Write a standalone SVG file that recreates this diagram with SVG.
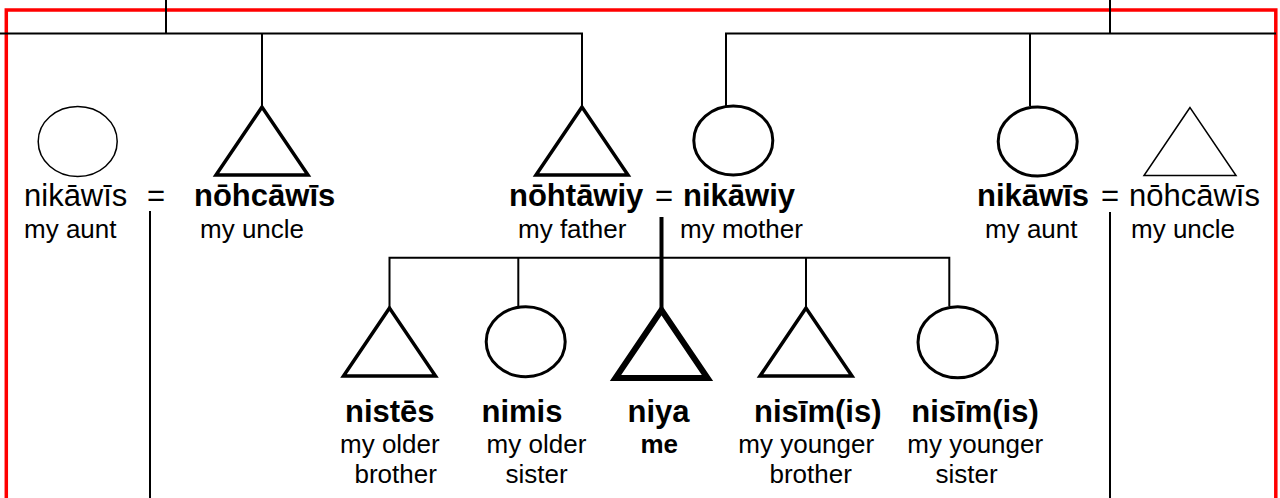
<svg xmlns="http://www.w3.org/2000/svg" width="1280" height="498" viewBox="0 0 1280 498">
<style>
text{font-family:"Liberation Sans",Arial,sans-serif;fill:#000}
.nm{font-size:31px}
.b{font-weight:bold}
.sub{font-size:26px}
.thin{fill:none;stroke:#000;stroke-width:1.5}
.thick{fill:none;stroke:#000;stroke-width:3.5}
.me{fill:none;stroke:#000;stroke-width:6}
.ln{fill:none;stroke:#000;stroke-width:2}
.frame{fill:none;stroke:#ff0000;stroke-width:3.5}
</style>
<defs>
<path id="tri" d="M0,0 L-46,68 L46,68 Z"/>
</defs>
<rect width="1280" height="498" fill="#fff"/>
<rect class="frame" x="6.3" y="10" width="1269.5" height="560"/>

<g id="connectors">
<path class="ln" d="M0,33.5 H582 V107"/>
<path class="ln" d="M166,0 V33.5"/>
<path class="ln" d="M262,33.5 V107"/>
<path class="ln" d="M726,106 V33.5 H1276"/>
<path class="ln" d="M1110,0 V33.5"/>
<path class="ln" d="M1030,33.5 V106"/>
<path class="ln" d="M150,211 V498"/>
<path class="ln" d="M1110,212 V498"/>
<path class="ln" style="stroke-width:4" d="M661.5,217 V309"/>
<path class="ln" d="M389.5,308 V257.7 H949.3 V306"/>
<path class="ln" d="M518.3,257.7 V306"/>
<path class="ln" d="M806,257.7 V308"/>
</g>

<g id="aunt-left">
<ellipse class="thin" cx="77.7" cy="141.5" rx="39.5" ry="35"/>
<text class="nm" x="24" y="206">nikāwīs</text>
<text class="sub" x="24" y="238">my aunt</text>
</g>
<g id="eq-left"><text class="nm" x="147" y="206">=</text></g>
<g id="uncle-left">
<use href="#tri" class="thick" x="262" y="107"/>
<text class="nm b" x="194" y="206">nōhcāwīs</text>
<text class="sub" x="200" y="238">my uncle</text>
</g>

<g id="father">
<use href="#tri" class="thick" x="582" y="107"/>
<text class="nm b" x="509" y="206">nōhtāwiy</text>
<text class="sub" x="518" y="238">my father</text>
</g>
<g id="eq-parents"><text class="nm" x="655" y="206">=</text></g>
<g id="mother">
<ellipse class="thick" style="stroke-width:3" cx="733.3" cy="140.5" rx="39.5" ry="34.5"/>
<text class="nm b" x="683" y="206">nikāwiy</text>
<text class="sub" x="680" y="238">my mother</text>
</g>

<g id="aunt-right">
<ellipse class="thick" style="stroke-width:3" cx="1037.7" cy="141.5" rx="39.5" ry="34.5"/>
<text class="nm b" x="977" y="206">nikāwīs</text>
<text class="sub" x="985" y="238">my aunt</text>
</g>
<g id="eq-right"><text class="nm" x="1101" y="206">=</text></g>
<g id="uncle-right">
<use href="#tri" class="thin" x="1190" y="107.5"/>
<text class="nm" x="1129" y="206">nōhcāwīs</text>
<text class="sub" x="1131" y="238">my uncle</text>
</g>

<g id="older-brother">
<use href="#tri" class="thick" x="389.5" y="308"/>
<text class="nm b" x="345" y="421.7">nistēs</text>
<text class="sub" x="340" y="453.3">my older</text>
<text class="sub" x="354.5" y="483.3">brother</text>
</g>
<g id="older-sister">
<ellipse class="thick" style="stroke-width:3" cx="525.7" cy="341.7" rx="39.5" ry="35"/>
<text class="nm b" x="481.5" y="421.7">nimis</text>
<text class="sub" x="486.6" y="453.3">my older</text>
<text class="sub" x="505.5" y="483.3">sister</text>
</g>
<g id="me">
<use href="#tri" class="me" x="661.5" y="310"/>
<text class="nm b" x="627.5" y="421.7">niya</text>
<text class="sub b" x="640.5" y="453.3">me</text>
</g>
<g id="younger-brother">
<use href="#tri" class="thick" x="806" y="308"/>
<text class="nm b" x="754" y="421.7">nisīm(is)</text>
<text class="sub" x="738.3" y="453.3">my younger</text>
<text class="sub" x="769.5" y="483.3">brother</text>
</g>
<g id="younger-sister">
<ellipse class="thick" style="stroke-width:3" cx="957.7" cy="342.3" rx="39.7" ry="35.5"/>
<text class="nm b" x="911.3" y="421.7">nisīm(is)</text>
<text class="sub" x="907.3" y="453.3">my younger</text>
<text class="sub" x="935.5" y="483.3">sister</text>
</g>
</svg>
